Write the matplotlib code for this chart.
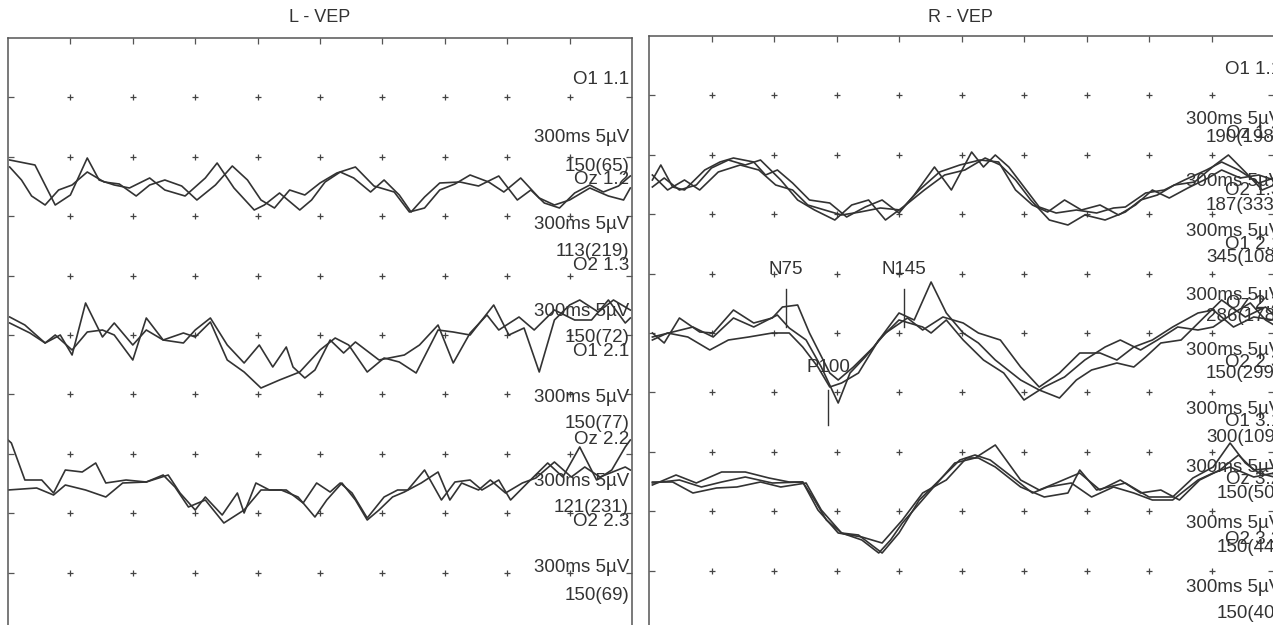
import numpy as np
import matplotlib
matplotlib.use("Agg")
from matplotlib import pyplot as plt

plt.rcParams['font.family'] = ['Liberation Sans', 'DejaVu Sans']

# ---- left eye, channel groups 1..3 (time in ms, amplitude in uV) ----
l1a_t = [-5, 10, 22, 31, 41, 48, 57, 66, 78, 87, 99, 111, 118, 128, 140, 146, 155, 167, 174, 182,
         191, 199, 209, 217, 226, 233, 241, 250, 262, 273, 285, 296, 304, 312, 321, 330, 339, 347, 356, 363]
l1a_v = [2.8, 2.3, -1.7, -0.7, 3.0, 0.8, 0.3, 0.0, 1.0, -0.2, -0.8, 1.0, 2.5, 0.0, -2.2, -1.7, -0.5, -2.2, -1.2, 0.6,
         1.6, 1.0, -0.4, 0.8, -0.7, -2.4, -0.9, 0.5, 0.6, 0.2, 1.2, -1.2, -0.2, -1.5, -2.0, -0.5, 0.3, -0.4, 0.2, 1.2]
l1b_t = [-5, 2, 8, 16, 24, 32, 41, 51, 60, 70, 78, 87, 97, 106, 117, 127, 136, 144, 152, 161,
         170, 179, 189, 200, 211, 223, 232, 241, 250, 259, 268, 279, 288, 298, 309, 318, 327, 339, 350, 359, 363]
l1b_v = [2.1, 0.8, -0.8, -1.7, -0.2, 0.3, 1.6, 0.6, 0.4, -0.8, 0.3, 0.8, 0.2, -1.2, 0.3, 2.2, 0.8, -1.2, -2.0, -0.2,
         -0.7, 0.5, 1.5, 2.1, 0.2, -0.4, -2.4, -2.0, -0.2, 0.4, 1.3, 0.6, -0.4, 1.0, -1.0, -1.7, -1.2, 0.0, -0.8, -1.2, 0.0]

l2a_t = [-5, 4, 16, 25, 32, 40, 50, 57, 68, 76, 86, 98, 105, 114, 124, 134, 144, 155, 167, 179,
         188, 196, 207, 217, 226, 236, 249, 258, 268, 282, 291, 300, 309, 318, 327, 333, 344, 353, 363]
l2a_v = [1.8, 1.0, -0.8, 0.0, -2.0, 3.2, -0.2, 1.2, -1.0, 0.5, -0.5, 0.2, -0.2, 1.3, -2.5, -3.7, -5.3, -4.5, -3.7, -1.5,
         -0.3, -1.0, -3.7, -2.3, -2.7, -3.8, 0.5, 0.3, 0.0, 3.0, 0.0, 0.7, -3.7, 1.5, 3.0, 3.5, 2.3, 3.5, 2.5]
l2b_t = [-5, 7, 16, 22, 32, 41, 50, 57, 68, 76, 86, 98, 105, 114, 124, 134, 143, 151, 159, 163,
         170, 176, 185, 193, 200, 214, 229, 238, 249, 258, 268, 278, 285, 297, 306, 318, 330, 340, 350, 360, 363]
l2b_v = [1.2, 0.2, -0.8, 0.0, -1.5, 0.3, 0.5, 0.0, -2.5, 1.7, -0.5, -0.8, 0.5, 1.7, -1.0, -2.8, -1.0, -3.2, -1.2, -3.2,
         -4.3, -3.5, -0.5, -1.8, -0.7, -2.5, -2.0, -1.0, 1.0, -2.8, 0.2, 2.0, 0.5, 1.8, 0.5, 2.5, 1.5, 1.5, 3.5, 1.2, 1.7]

l3a_t = [-6, -4, 4, 14, 21, 28, 38, 46, 52, 64, 76, 89, 96, 105, 111, 121, 130, 134, 141, 149,
         159, 169, 177, 185, 191, 198, 207, 217, 225, 231, 241, 251, 259, 268, 275, 285, 292, 302, 314, 323,
         333, 343, 352, 360, 363]
l3a_v = [4.8, 4.5, 0.8, 0.8, -0.5, 1.8, 1.6, 2.5, 0.5, 0.8, 0.6, 1.3, -0.5, -2.2, -0.9, -2.7, -0.5, -2.5, 0.5, -0.2,
         -0.2, -1.5, 0.5, -0.4, 0.5, -0.5, -3.0, -0.9, -0.2, -0.2, 1.8, -1.2, 0.6, 0.8, -0.2, 0.8, -1.2, 0.5, 2.5, 1.1,
         4.1, 0.8, 1.8, 4.1, 4.8]
l3b_t = [-6, 11, 21, 28, 40, 52, 62, 76, 86, 93, 101, 111, 122, 134, 144, 156, 166, 176, 183, 192,
         200, 207, 214, 222, 229, 239, 249, 256, 263, 273, 280, 289, 299, 307, 318, 328, 336, 345, 360, 363]
l3b_v = [-0.2, 0.0, -0.7, 0.3, -0.2, -0.9, 0.5, 0.6, 1.3, 0.1, -1.9, -1.2, -3.5, -2.2, -0.2, -0.2, -0.9, -2.9, -1.2, 0.5,
         -1.2, -3.2, -2.2, -0.9, -0.4, 0.5, 1.6, -1.2, 0.5, -0.2, 0.8, -0.5, 0.5, 1.0, 2.6, 1.1, 2.1, 1.1, 2.1, 1.8]

# ---- right eye ----
r1a_t = [-4, 1, 8, 15, 27, 36, 44, 56, 63, 70, 79, 89, 101, 111, 122, 132, 142, 151, 163, 173,
         185, 192, 199, 207, 216, 225, 235, 247, 259, 269, 276, 288, 299, 311, 324, 333, 343, 355, 364]
r1a_v = [0.5, 2.0, -0.2, -0.5, 1.5, 2.3, 2.7, 2.3, 1.0, 1.5, 0.2, -1.5, -1.8, -3.2, -2.2, -1.5, -2.8, -1.0, 1.8, -0.5,
         3.3, 1.8, 3.0, 1.8, -0.2, -2.2, -2.8, -2.5, -2.8, -2.3, -2.2, -0.8, -0.5, 0.5, 1.5, 2.3, 1.5, 0.2, 0.7]
r1b_t = [-4, 3, 12, 22, 31, 41, 51, 60, 72, 82, 92, 104, 114, 124, 134, 146, 157, 169, 181, 193,
         202, 211, 220, 231, 242, 252, 264, 276, 285, 295, 305, 317, 329, 337, 347, 357, 364]
r1b_v = [-0.2, 0.7, -0.5, 0.0, 1.7, 2.5, 2.0, 2.5, 0.5, -1.5, -2.5, -3.5, -2.0, -1.5, -3.5, -2.0, -0.5, 1.0, 1.5, 2.7,
         2.0, 0.5, -1.5, -3.5, -4.0, -3.0, -3.5, -2.7, -1.5, -1.0, 0.0, 0.3, 2.0, 3.0, 1.3, -0.5, 0.0]
r1c_t = [-4, 5, 15, 24, 35, 48, 59, 69, 79, 88, 98, 108, 119, 131, 143, 154, 166, 178, 190, 201,
         211, 221, 230, 240, 250, 261, 272, 282, 292, 302, 313, 325, 333, 344, 355, 364]
r1c_v = [1.0, -0.5, 0.5, -0.5, 1.3, 2.0, 1.5, 0.0, -0.5, -2.0, -2.5, -3.0, -2.7, -2.3, -2.5, -0.5, 1.3, 2.0, 2.5, 2.3,
         -0.5, -2.0, -2.7, -1.5, -2.5, -2.0, -3.0, -2.0, -0.5, -1.3, -0.3, 0.7, 1.5, 0.7, 1.0, 0.5]

r2a_t = [-4, 3, 12, 24, 32, 44, 56, 67, 73, 82, 89, 101, 106, 115, 127, 142, 151, 161, 170, 180,
         189, 199, 214, 225, 237, 247, 256, 271, 281, 288, 297, 309, 321, 333, 347, 359, 364]
r2a_v = [0.2, -0.8, 1.7, 0.3, 0.2, 2.5, 1.2, 1.7, 2.8, 3.0, 0.2, -3.8, -4.5, -3.2, -1.2, 2.2, 1.5, 5.3, 2.2, 0.2,
         -0.8, -2.5, -4.5, -5.5, -6.3, -4.5, -3.5, -2.8, -3.2, -2.2, -0.8, -0.5, 1.5, 3.5, 1.8, 2.8, 2.0]
r2b_t = [-4, 8, 20, 32, 44, 56, 70, 77, 87, 96, 106, 113, 122, 134, 147, 156, 168, 180, 189, 202,
         214, 225, 237, 249, 261, 271, 281, 292, 304, 319, 328, 340, 352, 364]
r2b_v = [-0.2, 0.3, 0.8, -0.2, 1.7, 0.8, 2.0, 0.7, -0.5, -3.2, -6.8, -3.8, -2.2, 0.2, 1.7, 0.5, 1.8, 1.2, 0.2, -0.5,
         -3.2, -5.2, -3.8, -1.8, -1.8, -2.5, -1.2, -0.5, 0.8, 2.2, 2.5, 0.8, 1.8, 1.5]
r2c_t = [-4, 5, 17, 30, 41, 53, 67, 77, 85, 94, 101, 108, 118, 130, 142, 156, 161, 170, 180, 192,
         204, 216, 228, 240, 252, 264, 273, 285, 295, 307, 319, 328, 340, 350, 359, 364]
r2c_v = [-0.5, 0.2, -0.2, -1.5, -0.5, -0.2, 0.2, 0.2, -1.2, -3.2, -5.2, -4.8, -3.8, -0.5, 1.5, 0.8, 0.2, 1.5, -0.5, -2.5,
         -3.8, -6.5, -5.2, -4.2, -2.5, -1.2, -0.5, -1.5, -0.5, 0.8, 0.5, 0.8, 2.2, 3.2, 1.5, 1.0]

r3a_t = [-4, 10, 22, 37, 51, 65, 77, 85, 94, 106, 120, 132, 144, 156, 170, 182, 189, 199, 214, 228,
         242, 249, 259, 276, 290, 304, 316, 328, 338, 347, 355, 364]
r3a_v = [0.0, 1.0, 0.2, 1.3, 1.3, 0.7, 0.3, 0.3, -2.5, -4.8, -5.2, -5.8, -3.5, -0.8, 0.5, 2.7, 2.7, 1.8, -0.2, -1.2,
         -0.8, 1.5, -0.5, 0.2, -1.2, -1.2, 0.7, 1.8, 4.2, 2.2, 1.2, 0.8]
r3b_t = [-4, 12, 25, 37, 51, 67, 85, 92, 99, 108, 118, 132, 142, 154, 166, 178, 187, 196, 209, 221,
         230, 244, 256, 269, 281, 292, 304, 319, 328, 338, 352, 364]
r3b_v = [0.2, 0.5, -0.2, 0.3, 0.8, 0.2, 0.3, -1.5, -3.5, -4.8, -5.0, -6.8, -4.8, -1.5, 0.5, 2.5, 3.0, 2.5, 0.8, -0.8,
         -0.2, 0.2, -1.2, -0.2, -0.8, -1.5, -1.5, 0.5, 1.2, 1.8, 0.8, 1.2]
r3c_t = [-4, 8, 20, 34, 46, 60, 72, 87, 96, 108, 120, 130, 137, 144, 161, 175, 187, 199, 214, 225,
         235, 249, 261, 273, 285, 297, 308, 320, 332, 343, 352, 364]
r3c_v = [0.3, 0.3, -0.8, -0.3, -0.2, 0.3, -0.2, 0.2, -2.5, -4.8, -5.5, -6.8, -5.5, -3.8, -0.5, 2.2, 2.7, 4.0, 0.5, -0.5,
         0.2, 1.2, -0.5, 0.5, -0.8, -0.5, -1.5, 0.5, 1.5, 3.0, 1.5, 1.7]

# channel labels
left_names = ["O1 1.1", "Oz 1.2", "O2 1.3", "O1 2.1", "Oz 2.2", "O2 2.3"]
left_lat = ["150(65)", "113(219)", "150(72)", "150(77)", "121(231)", "150(69)"]
right_names = ["O1 1.1", "Oz 1.2", "O2 1.3", "O1 2.1", "Oz 2.2", "O2 2.3", "O1 3.1", "Oz 3.2", "O2 3.3"]
right_lat = ["190(198)", "187(333)", "345(108)", "286(178)", "150(299)", "300(109)", "150(50)", "150(44)", "150(40)"]
scale_text = "300ms 5\u00b5V"

# peak markers on the right eye, middle group
peak_names = ["N75", "P100", "N145"]
peak_ms = [75, 100, 145]

W, H = 1273, 625
T0, T1 = -6, 364
INK = '#333333'
FS = 13.5

fig = plt.figure(figsize=(W / 100, H / 100), dpi=100)
fig.patch.set_facecolor('white')


def makePanel(left, top, width, height=594):
    ax = fig.add_axes([left / W, 1 - (top + height) / H, width / W, height / H])
    ax.set_xlim(T0, T1)
    ax.set_ylim(-height / 10, 0)
    cols = np.linspace(T0, T1, 11)[1:-1]
    rows = -np.arange(1, 10) * 5.94
    ax.set_xticks(cols)
    ax.set_yticks(rows)
    ax.tick_params(direction='in', length=4, width=0.9, colors='#555',
                   top=True, bottom=False, left=True, right=True,
                   labelbottom=False, labelleft=False)
    for side in ['left', 'top', 'right']:
        ax.spines[side].set_color('#555')
        ax.spines[side].set_linewidth(1.1)
    ax.spines['bottom'].set_visible(False)
    gx, gy = np.meshgrid(cols, rows)
    ax.plot(gx.ravel(), gy.ravel(), '+', ms=4.5, mew=0.9, color='#444')
    return ax


def drawTraces(ax, traces, bases):
    for t, v, g in traces:
        ax.plot(t, bases[g] + np.array(v), color=INK, lw=1.2,
                solid_joinstyle='round')


def figText(x, y, s, size=FS, **kw):
    fig.text(x / W, 1 - y / H, s, color='#333', fontsize=size, **kw)


axL = makePanel(8, 38, 624)
drawTraces(axL, [(l1a_t, l1a_v, 0), (l1b_t, l1b_v, 0),
                 (l2a_t, l2a_v, 1), (l2b_t, l2b_v, 1),
                 (l3a_t, l3a_v, 2), (l3b_t, l3b_v, 2)], [-15.0, -29.7, -45.0])

axR = makePanel(649, 36, 625)
right_bases = [-14.9, -29.9, -44.9]
drawTraces(axR, [(r1a_t, r1a_v, 0), (r1b_t, r1b_v, 0), (r1c_t, r1c_v, 0),
                 (r2a_t, r2a_v, 1), (r2b_t, r2b_v, 1), (r2c_t, r2c_v, 1),
                 (r3a_t, r3a_v, 2), (r3b_t, r3b_v, 2), (r3c_t, r3c_v, 2)], right_bases)

# latency markers: negative peaks ticked from above, positive from below
b = right_bases[1]
for name, ms in zip(peak_names, peak_ms):
    if name.startswith('N'):
        axR.plot([ms, ms], [b + 0.8, b + 4.6], color=INK, lw=1.0)
        axR.text(ms, b + 6.5, name, ha='center', va='center', fontsize=FS, color='#333')
    else:
        axR.plot([ms, ms], [b - 5.5, b - 9.0], color=INK, lw=1.0)
        axR.text(ms, b - 3.3, name, ha='center', va='center', fontsize=FS, color='#333')

figText(320, 17, "L - VEP", size=13, ha='center', va='center')
figText(960, 17, "R - VEP", size=13, ha='center', va='center')

# per-channel label stacks at the right edge of each panel
left_name_y = [80, 180, 266, 352, 440, 522]
left_scale_y = [137, 224, 311, 397, 482, 568]
left_lat_y = [166, 252, 337, 423, 508, 595]
for i in range(len(left_names)):
    figText(629, left_name_y[i], left_names[i], ha='right', va='center')
    figText(629, left_scale_y[i], scale_text, ha='right', va='center')
    figText(629, left_lat_y[i], left_lat[i], ha='right', va='center')

right_name_y = [70, 133, 190, 244, 303, 362, 422, 480, 540]
right_scale_y = [119, 182, 232, 296, 350, 410, 468, 524, 587]
right_lat_y = [137, 205, 257, 316, 373, 437, 493, 548, 613]
for i in range(len(right_names)):
    figText(1281, right_name_y[i], right_names[i], ha='right', va='center')
    figText(1281, right_scale_y[i], scale_text, ha='right', va='center')
    figText(1281, right_lat_y[i], right_lat[i], ha='right', va='center')

fig.savefig('out.png', dpi=100, facecolor='white')
